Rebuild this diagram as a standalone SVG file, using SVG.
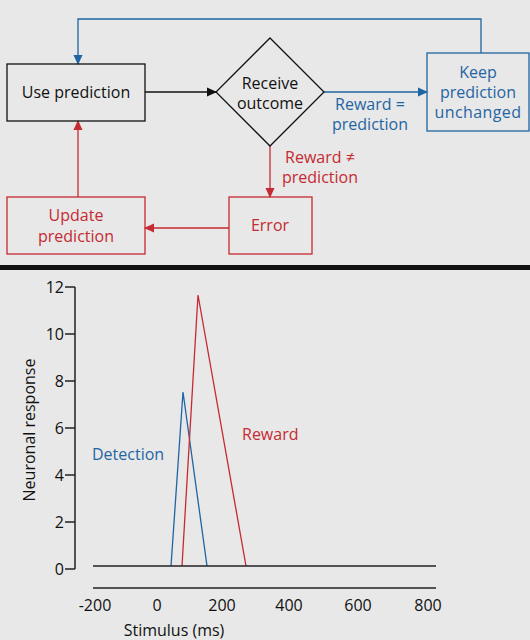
<svg xmlns="http://www.w3.org/2000/svg" width="530" height="640" viewBox="0 0 530 640">
<defs>
<style>
text{font-family:"Open Sans","Noto Sans","Liberation Sans",sans-serif;font-size:16px}
.k{fill:#111}.b{fill:#1f65a3}.r{fill:#c62a32}
.box{fill:none;stroke-width:1.3}
.ln{fill:none;stroke-width:1.3}
.ax{fill:none;stroke:#222;stroke-width:1.5}
.mid{text-anchor:middle}.end{text-anchor:end}
</style>
<marker id="ak" markerWidth="10" markerHeight="10" refX="9" refY="5" orient="auto" markerUnits="userSpaceOnUse"><path d="M0,0.5 L10,5 L0,9.5z" fill="#111"/></marker>
<marker id="ab" markerWidth="10" markerHeight="10" refX="9" refY="5" orient="auto" markerUnits="userSpaceOnUse"><path d="M0,0.5 L10,5 L0,9.5z" fill="#1f65a3"/></marker>
<marker id="ar" markerWidth="10" markerHeight="10" refX="9" refY="5" orient="auto" markerUnits="userSpaceOnUse"><path d="M0,0.5 L10,5 L0,9.5z" fill="#c62a32"/></marker>
</defs>
<rect x="0" y="0" width="530" height="640" fill="#e8e8e8"/>
<rect x="0" y="265" width="530" height="5" fill="#111"/>

<g id="connectors">
<line class="ln" x1="145" y1="92" x2="216" y2="92" stroke="#111" marker-end="url(#ak)"/>
<line class="ln" x1="324" y1="92" x2="427" y2="92" stroke="#1f65a3" marker-end="url(#ab)"/>
<polyline class="ln" points="481,53 481,19 78,19 78,64" stroke="#1f65a3" marker-end="url(#ab)"/>
<line class="ln" x1="270" y1="146" x2="270" y2="197" stroke="#c62a32" marker-end="url(#ar)"/>
<line class="ln" x1="229" y1="228" x2="145" y2="228" stroke="#c62a32" marker-end="url(#ar)"/>
<line class="ln" x1="78" y1="197" x2="78" y2="121" stroke="#c62a32" marker-end="url(#ar)"/>
<text class="b" x="370" y="110" text-anchor="middle" font-size="16.5">Reward =</text>
<text class="b" x="370" y="130" text-anchor="middle" font-size="16.5">prediction</text>
<text class="r" x="320" y="163" text-anchor="middle" font-size="16.5">Reward ≠</text>
<text class="r" x="320" y="183" text-anchor="middle" font-size="16.5">prediction</text>
</g>

<g id="use-prediction">
<rect class="box" x="7" y="64" width="138" height="57" stroke="#111"/>
<text class="k mid" x="76" y="98">Use prediction</text>
</g>
<g id="receive-outcome">
<polygon class="box" points="270,38 324,92 270,146 216,92" stroke="#111"/>
<text class="k mid" x="270" y="89">Receive</text>
<text class="k mid" x="270" y="109">outcome</text>
</g>
<g id="keep-prediction">
<rect class="box" x="427" y="53" width="102" height="78" stroke="#1f65a3"/>
<text class="b mid" x="478" y="78">Keep</text>
<text class="b mid" x="478" y="98">prediction</text>
<text class="b mid" x="478" y="118" letter-spacing="0.4">unchanged</text>
</g>
<g id="error">
<rect class="box" x="229" y="197" width="83" height="57" stroke="#c62a32"/>
<text class="r mid" x="270" y="231">Error</text>
</g>
<g id="update-prediction">
<rect class="box" x="7" y="197" width="138" height="57" stroke="#c62a32"/>
<text class="r mid" x="76" y="221">Update</text>
<text class="r mid" x="76" y="242">prediction</text>
</g>

<g id="chart">
<path class="ax" d="M75,287 V569 M65,287 H75 M65,334 H75 M65,381 H75 M65,428 H75 M65,475 H75 M65,522 H75 M65,569 H75"/>
<g class="k end">
<text x="64" y="293">12</text>
<text x="64" y="340">10</text>
<text x="64" y="387">8</text>
<text x="64" y="434">6</text>
<text x="64" y="481">4</text>
<text x="64" y="528">2</text>
<text x="64" y="575">0</text>
</g>
<line class="ax" x1="93" y1="588" x2="436" y2="588"/>
<g class="k mid">
<text x="95" y="611">-200</text>
<text x="157" y="611">0</text>
<text x="222" y="611">200</text>
<text x="289" y="611">400</text>
<text x="358" y="611">600</text>
<text x="428" y="611">800</text>
</g>
<text class="k mid" x="174" y="636" font-size="15">Stimulus (ms)</text>
<text class="k mid" x="0" y="0" font-size="15" transform="translate(35,430) rotate(-90)">Neuronal response</text>
<polyline class="ln" points="171,566 183,392 207,566" stroke="#1f65a3"/>
<polyline class="ln" points="182,566 198,295 246,566" stroke="#c62a32"/>
<line class="ax" x1="93" y1="566" x2="436" y2="566"/>
<text class="b" x="92" y="460">Detection</text>
<text class="r" x="242" y="440">Reward</text>
</g>
</svg>
